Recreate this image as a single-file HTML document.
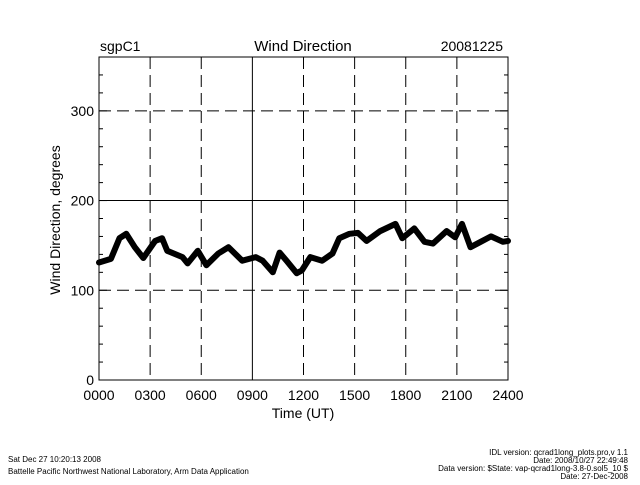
<!DOCTYPE html>
<html><head><meta charset="utf-8"><style>
body{margin:0;background:#fff;}
svg text{font-family:"Liberation Sans",sans-serif;fill:#000;}
</style></head><body>
<svg id="chart" width="640" height="480" xmlns="http://www.w3.org/2000/svg">
<rect width="640" height="480" fill="#fff"/>
<g id="grid"></g>
<g id="series"></g>
<rect x="99" y="57" width="409" height="323" fill="none" stroke="#000" stroke-width="1"/>
<g id="ticks"></g>
<text x="100" y="51" font-size="14">sgpC1</text>
<text x="303" y="51" font-size="15" text-anchor="middle">Wind Direction</text>
<text x="503" y="51" font-size="14" text-anchor="end">20081225</text>
<text x="303" y="418" font-size="14" text-anchor="middle">Time (UT)</text>
<text x="60" y="220" font-size="14" text-anchor="middle" transform="rotate(-90 60 220)">Wind Direction, degrees</text>
<text x="8" y="462" font-size="8">Sat Dec 27 10:20:13 2008</text>
<text x="8" y="474" font-size="8">Battelle Pacific Northwest National Laboratory, Arm Data Application</text>
<g font-size="8" text-anchor="end">
<text x="628" y="455">IDL version: qcrad1long_plots.pro,v 1.1</text>
<text x="628" y="463">Date: 2008/10/27 22:49:48</text>
<text x="628" y="471">Data version: $State: vap-qcrad1long-3.8-0.sol5_10 $</text>
<text x="628" y="479">Date: 27-Dec-2008</text>
</g>
</svg>
<script>
const times=[0,0.7,1.2,1.6,2.1,2.6,3.3,3.7,4.0,4.9,5.2,5.8,6.3,7.0,7.6,8.4,9.2,9.6,10.2,10.6,11.0,11.6,11.9,12.4,13.1,13.7,14.1,14.7,15.2,15.7,16.5,17.4,17.8,18.5,19.1,19.6,20.4,20.9,21.3,21.8,22.4,23.0,23.7,24];
const dirs=[131,135,158,163,148,136,155,158,144,137,130,144,128,141,148,133,137,133,120,142,133,119,122,137,133,141,158,163,164,155,166,174,158,169,154,152,166,159,174,148,154,160,154,155];
const xTicks=["0000","0300","0600","0900","1200","1500","1800","2100","2400"];
const yTicks=[0,100,200,300];
const X0=99,X1=508,Y0=380,Y1=57;
const xs=t=>X0+(X1-X0)*t/24;
const ys=v=>Y0-(Y0-Y1)*v/360;
const NS="http://www.w3.org/2000/svg";
function mk(tag,attrs,parent){const e=document.createElementNS(NS,tag);for(const k in attrs)e.setAttribute(k,attrs[k]);parent.appendChild(e);return e;}
const grid=document.getElementById('grid'),ticks=document.getElementById('ticks'),ser=document.getElementById('series');
xTicks.forEach((lab,i)=>{const x=xs(i*3);
 if(i>0&&i<8){const l=mk('line',{x1:x,x2:x,y1:Y1,y2:Y0,stroke:'#000','stroke-dasharray':i==3?'none':'12,6'},grid);
 
 }
 const t=mk('text',{x:x,y:Y0+20,'font-size':14,'text-anchor':'middle'},ticks);t.textContent=lab;
 
 
});
for(let v=0;v<=360;v+=20){const y=ys(v);const len=v%100==0?8:4;
 mk('line',{x1:X0,x2:X0+len,y1:y,y2:y,stroke:'#000'},ticks);mk('line',{x1:X1,x2:X1-len,y1:y,y2:y,stroke:'#000'},ticks);}
yTicks.forEach(v=>{const y=ys(v);
 if(v>0){const l=mk('line',{x1:X0,x2:X1,y1:y,y2:y,stroke:'#000','stroke-dasharray':v==200?'none':'12,6'},grid);
 
 }
 const t=mk('text',{x:X0-5,y:y+5,'font-size':14,'text-anchor':'end'},ticks);t.textContent=v;
 
 
});
const pts=times.map((t,i)=>xs(t).toFixed(1)+','+ys(dirs[i]).toFixed(1)).join(' ');
const pl=mk('polyline',{points:pts,fill:'none',stroke:'#000','stroke-width':6,'stroke-linejoin':'round','stroke-linecap':'round'},ser);


</script>
</body></html>
